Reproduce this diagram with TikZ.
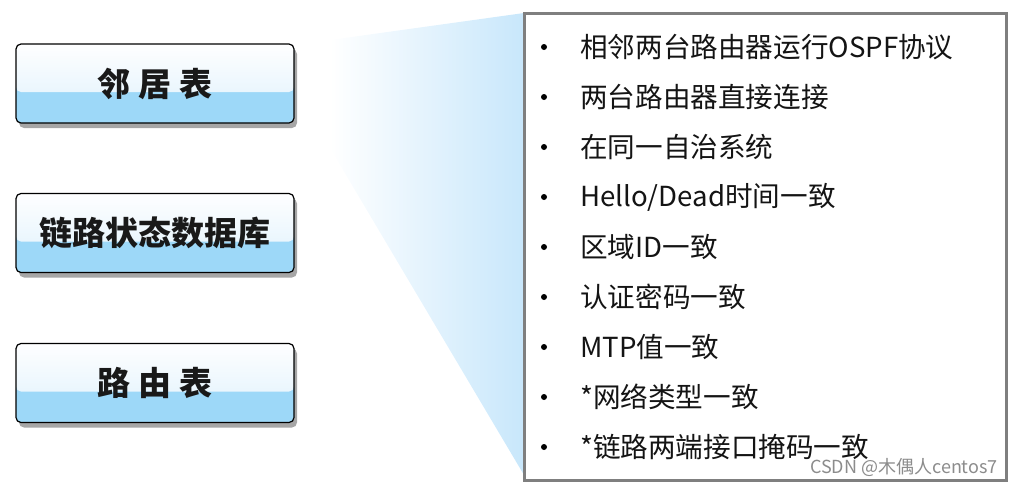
\documentclass[tikz,border=0pt]{standalone}
\usepackage{fontspec}
\setmainfont{Noto Sans CJK SC}
\usetikzlibrary{shadows}
\definecolor{topblue}{HTML}{DDF0FC}
\definecolor{lowblue}{HTML}{9DD8F8}
\definecolor{funnelblue}{HTML}{C8E7FB}
\definecolor{framegray}{HTML}{7F7F7F}
\tikzset{
  tablebox/.style={draw=black, line width=1.2pt, rounded corners=5pt,
    minimum width=278pt, minimum height=79pt, inner sep=0pt,
    font=\fontsize{33}{38}\selectfont\bfseries, text=black!90,
    drop shadow={shadow xshift=3pt, shadow yshift=-5pt, opacity=.35, fill=black},
    fill=lowblue,
    path picture={
      \shade[top color=white, bottom color=topblue]
        ([yshift=2pt]path picture bounding box.north west) rectangle
        ([yshift=-48pt]path picture bounding box.north east);
    }},
  bul/.style={circle, fill=black, inner sep=0pt, minimum size=6pt},
  itemtext/.style={anchor=west, inner sep=0pt, font=\fontsize{27.6}{32}\selectfont, text=black!92},
  listframe/.style={draw=framegray, line width=3pt, fill=white, inner sep=0pt,
    minimum width=482pt, minimum height=467pt,
    drop shadow={shadow xshift=1.5pt, shadow yshift=-1.5pt, opacity=.25, fill=black}},
  mark watermark/.style={anchor=east, inner sep=0pt, font=\fontsize{18}{20}\selectfont, text=black!45}
}
\begin{document}
\begin{tikzpicture}[x=1pt,y=-1pt]
\useasboundingbox (0,0) rectangle (1011,488);
% funnel
\shade[left color=white, right color=funnelblue] (330,40) -- (524,13) -- (524,475) -- (330,148) -- cycle;
% list frame
\node[listframe] (list) at (765,246.5) {};
% left boxes
\node[tablebox] (nbr) at (155,83.5) {邻 居 表};
\node[tablebox] (lsdb) at (155,233) {链路状态数据库};
\node[tablebox] (rt) at (155,383) {路 由 表};
% items
\foreach \i/\t in {1/{相邻两台路由器运行OSPF协议}, 2/{两台路由器直接连接}, 3/{在同一自治系统}, 4/{Hello/Dead时间一致}, 5/{区域ID一致}, 6/{认证密码一致}, 7/{MTP值一致}, 8/{*网络类型一致}, 9/{*链路两端接口掩码一致}}{
  \node[bul] (b\i) at (544,{47+50*(\i-1)}) {};
  \node[itemtext] (t\i) at (580,{47+50*(\i-1)}) {\t};
}
\node[mark watermark] (wm) at (998,467) {CSDN @木偶人centos7};
\end{tikzpicture}
\end{document}
